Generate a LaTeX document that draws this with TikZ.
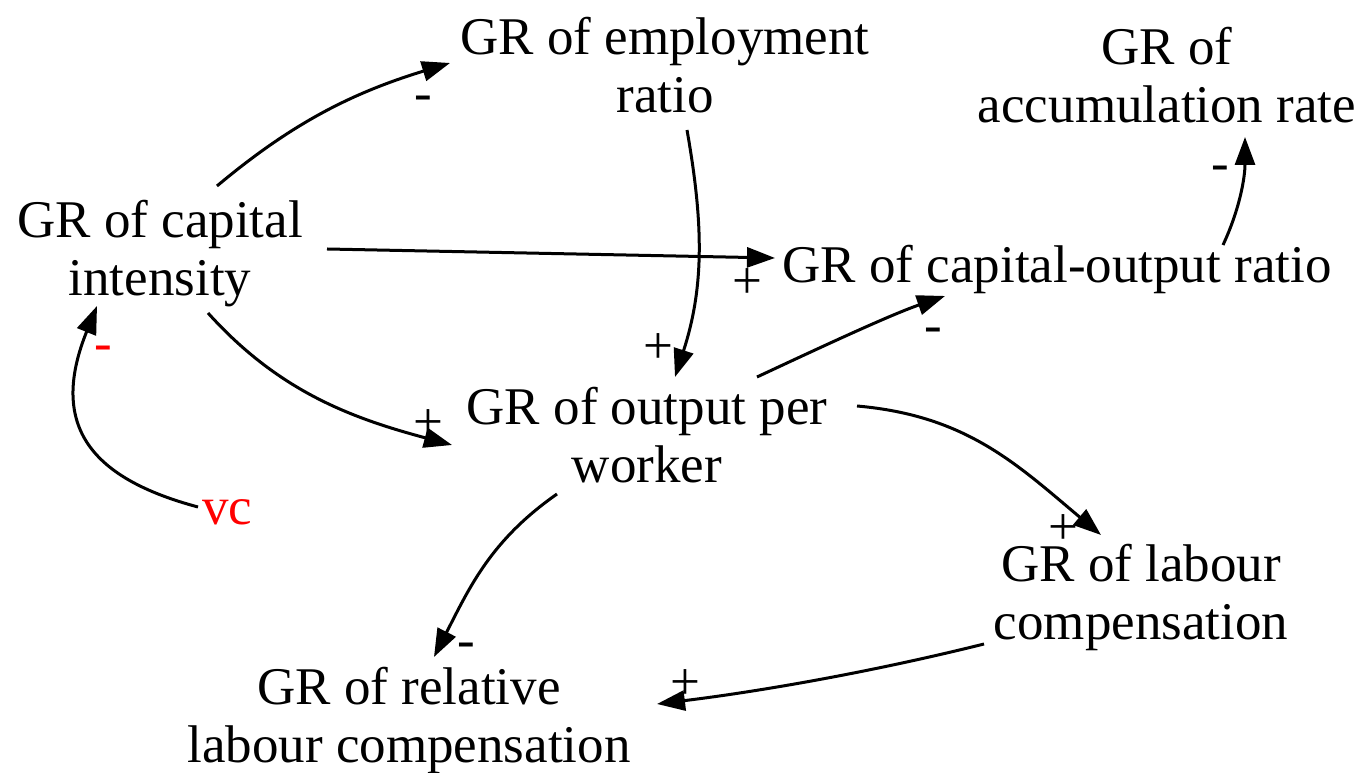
\documentclass[tikz,border=0pt]{standalone}
\usepackage{fontspec}
\setmainfont{Liberation Serif}
\usetikzlibrary{arrows.meta,calc}
\begin{document}
\begin{tikzpicture}[x=1pt,y=1pt,
  var/.style={font=\fontsize{53}{58}\selectfont, align=center, inner sep=0pt, outer sep=0pt},
  sgn/.style={font=\fontsize{53}{58}\selectfont, inner sep=0pt, outer sep=0pt},
  arr/.style={line width=3pt, -{Triangle[length=28pt,width=20pt]}}]
\useasboundingbox (0,0) rectangle (1359,773);
% variables
\node[var] (capint) at (160,517.6) {\strut GR of capital\\\strut intensity};
\node[var] (emp) at (665,700.6) {\strut GR of employment\\\strut ratio};
\node[var] (acc) at (1167,690.6) {\strut GR of\\\strut accumulation rate};
\node[var] (cor) at (1057,501.6) {\strut GR of capital-output ratio};
\node[var] (opw) at (647,330.6) {\strut GR of output per\\\strut worker};
\node[var] (lab) at (1141,173.6) {\strut GR of labour\\\strut compensation};
\node[var] (rel) at (409,50.6) {\strut GR of relative\\\strut labour compensation};
\node[var, text=red] (vc) at (227.5,259.6) {\strut vc};
% connectors
\draw[arr] ($(capint)+(57,69.4)$) .. controls +(40:100) and +(197:100) .. ($(emp)+(-215,9.4)$);
\draw[arr] ($(emp)+(22,-57.6)$) .. controls +(-80:95) and +(72:95) .. ($(opw)+(28,65.4)$);
\draw[arr] ($(capint)+(167,6.4)$) -- ($(cor)+(-282,13.4)$);
\draw[arr] ($(capint)+(48,-57.6)$) .. controls +(-48:105) and +(165:105) .. ($(opw)+(-195,-2.6)$);
\draw[arr] ($(opw)+(110,65.4)$) .. controls +(25:60) and +(199:60) .. ($(cor)+(-112,-24.6)$);
\draw[arr] ($(cor)+(166,26.4)$) .. controls +(65:40) and +(-90:40) .. ($(acc)+(78,-54.6)$);
\draw[arr] ($(opw)+(210,36.4)$) .. controls +(-5:110) and +(140:110) .. ($(lab)+(-40,64.4)$);
\draw[arr] ($(opw)+(-90,-51.6)$) .. controls +(-145:80) and +(63:80) .. ($(rel)+(25,65.4)$);
\draw[arr] ($(lab)+(-157,-44.6)$) .. controls +(194:110) and +(7:110) .. ($(rel)+(248,18.4)$);
\draw[arr] ($(vc)+(-29.5,6.4)$) .. controls +(165:110) and +(-112:130) .. ($(capint)+(-63,-50.6)$);
% polarity signs
\node[sgn] (s1) at (423,670) {-};
\node[sgn] (s2) at (658,424.5) {+};
\node[sgn] (s3) at (747,489.7) {+};
\node[sgn] (s4) at (428,348) {+};
\node[sgn] (s5) at (933,438) {-};
\node[sgn] (s6) at (1220,600) {-};
\node[sgn] (s7) at (1063,243) {+};
\node[sgn] (s8) at (466,123) {-};
\node[sgn] (s9) at (685,88) {+};
\node[sgn, text=red] (s10) at (103,420) {-};
\end{tikzpicture}
\end{document}
